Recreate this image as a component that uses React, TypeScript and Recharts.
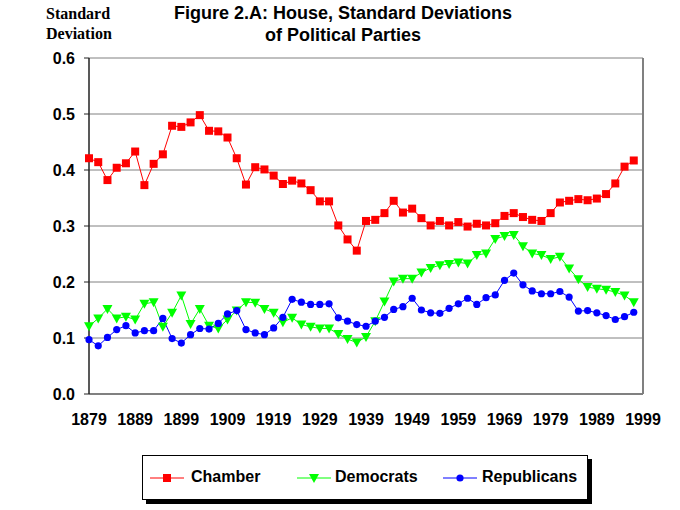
import React from 'react';
import { LineChart, Line, XAxis, YAxis, CartesianGrid, ReferenceLine, Legend } from 'recharts';

const years = [
  1879, 1881, 1883, 1885, 1887, 1889, 1891, 1893, 1895, 1897,
  1899, 1901, 1903, 1905, 1907, 1909, 1911, 1913, 1915, 1917,
  1919, 1921, 1923, 1925, 1927, 1929, 1931, 1933, 1935, 1937,
  1939, 1941, 1943, 1945, 1947, 1949, 1951, 1953, 1955, 1957,
  1959, 1961, 1963, 1965, 1967, 1969, 1971, 1973, 1975, 1977,
  1979, 1981, 1983, 1985, 1987, 1989, 1991, 1993, 1995, 1997,
];

const chamber = [
  0.421, 0.414, 0.382, 0.404, 0.412, 0.433, 0.373, 0.411, 0.428, 0.479,
  0.477, 0.485, 0.498, 0.470, 0.469, 0.458, 0.421, 0.374, 0.405, 0.401,
  0.390, 0.375, 0.381, 0.376, 0.364, 0.344, 0.344, 0.301, 0.276, 0.256,
  0.309, 0.311, 0.323, 0.345, 0.324, 0.331, 0.314, 0.301, 0.309, 0.301,
  0.307, 0.299, 0.304, 0.301, 0.305, 0.318, 0.323, 0.316, 0.311, 0.309,
  0.323, 0.342, 0.345, 0.348, 0.346, 0.349, 0.357, 0.376, 0.406, 0.417,
];

const democrats = [
  0.121, 0.135, 0.152, 0.135, 0.138, 0.133, 0.161, 0.164, 0.120, 0.145,
  0.176, 0.125, 0.152, 0.122, 0.117, 0.133, 0.149, 0.164, 0.163, 0.152,
  0.145, 0.128, 0.136, 0.124, 0.120, 0.117, 0.117, 0.107, 0.098, 0.092,
  0.102, 0.130, 0.165, 0.201, 0.206, 0.206, 0.217, 0.225, 0.230, 0.232,
  0.235, 0.233, 0.248, 0.251, 0.277, 0.282, 0.284, 0.264, 0.251, 0.248,
  0.241, 0.245, 0.224, 0.205, 0.191, 0.188, 0.186, 0.182, 0.176, 0.164,
];

const republicans = [
  0.097, 0.086, 0.101, 0.115, 0.122, 0.109, 0.113, 0.113, 0.135, 0.099,
  0.091, 0.106, 0.117, 0.116, 0.126, 0.143, 0.149, 0.115, 0.109, 0.106,
  0.118, 0.137, 0.169, 0.164, 0.160, 0.160, 0.161, 0.136, 0.130, 0.124,
  0.121, 0.130, 0.137, 0.151, 0.156, 0.171, 0.150, 0.145, 0.144, 0.153,
  0.161, 0.171, 0.160, 0.172, 0.177, 0.203, 0.216, 0.195, 0.184, 0.179,
  0.179, 0.183, 0.173, 0.148, 0.149, 0.145, 0.140, 0.133, 0.138, 0.146,
];

const xTicks = [1879, 1889, 1899, 1909, 1919, 1929, 1939, 1949, 1959, 1969, 1979, 1989, 1999];
const yTicks = [0, 0.1, 0.2, 0.3, 0.4, 0.5, 0.6];

const data = years.map((y, i) => ({
  year: y,
  chamber: chamber[i],
  democrats: democrats[i],
  republicans: republicans[i],
}));

const RED = '#FF0000';
const GREEN = '#00FF00';
const BLUE = '#0000FF';
const SANS = '"Liberation Sans", Arial, sans-serif';
const SERIF = '"Liberation Serif", "Times New Roman", serif';

const SquareDot = (props: any) => {
  const { cx, cy, index } = props;
  if (cx == null || cy == null) return <g key={`s${index}`} />;
  return <rect key={`s${index}`} x={cx - 4} y={cy - 4} width={8} height={8} fill={RED} />;
};

const TriDot = (props: any) => {
  const { cx, cy, index } = props;
  if (cx == null || cy == null) return <g key={`t${index}`} />;
  return (
    <polygon
      key={`t${index}`}
      points={`${cx - 5},${cy - 4} ${cx + 5},${cy - 4} ${cx},${cy + 5}`}
      fill={GREEN}
    />
  );
};

const CircDot = (props: any) => {
  const { cx, cy, index } = props;
  if (cx == null || cy == null) return <g key={`c${index}`} />;
  return <circle key={`c${index}`} cx={cx} cy={cy} r={3.6} fill={BLUE} />;
};

const legendItems = [
  { label: 'Chamber', color: RED, kind: 'square', lineX: 7, textX: 48 },
  { label: 'Democrats', color: GREEN, kind: 'tri', lineX: 154, textX: 192 },
  { label: 'Republicans', color: BLUE, kind: 'circle', lineX: 300, textX: 339 },
];

const LegendBox = () => (
  <div
    style={{
      position: 'relative',
      width: 444,
      height: 43,
      border: '1px solid #000',
      background: '#fff',
      boxShadow: '4px 4px 0 #000',
      fontFamily: SANS,
    }}
  >
    {legendItems.map((it) => (
      <React.Fragment key={it.label}>
        <svg
          width={34}
          height={12}
          style={{ position: 'absolute', left: it.lineX, top: 16 }}
        >
          <line x1={0} y1={6} x2={34} y2={6} stroke={it.color} strokeWidth={1} />
          {it.kind === 'square' && <rect x={13} y={2} width={8} height={8} fill={it.color} />}
          {it.kind === 'tri' && <polygon points="12,2 22,2 17,11" fill={it.color} />}
          {it.kind === 'circle' && <circle cx={17} cy={6} r={3.6} fill={it.color} />}
        </svg>
        <span
          style={{
            position: 'absolute',
            left: it.textX,
            top: 11,
            fontSize: 16,
            fontWeight: 'bold',
            lineHeight: '20px',
            color: '#000',
            whiteSpace: 'nowrap',
          }}
        >
          {it.label}
        </span>
      </React.Fragment>
    ))}
  </div>
);

export default function App() {
  return (
    <div style={{ position: 'absolute', left: 0, top: 0, width: 680, height: 510, background: '#fff' }}>
      <div
        style={{
          position: 'absolute',
          left: 46,
          top: 4,
          fontFamily: SERIF,
          fontWeight: 'bold',
          fontSize: 16,
          lineHeight: '20px',
          color: '#000',
        }}
      >
        Standard
        <br />
        Deviation
      </div>
      <div
        style={{
          position: 'absolute',
          left: 143,
          top: 2,
          width: 400,
          textAlign: 'center',
          fontFamily: SANS,
          fontWeight: 'bold',
          fontSize: 18,
          lineHeight: '22px',
          color: '#000',
        }}
      >
        Figure 2.A: House, Standard Deviations
        <br />
        of Political Parties
      </div>
      <LineChart
        width={680}
        height={510}
        data={data}
        margin={{ top: 58, right: 37, bottom: 86, left: 39 }}
      >
        <CartesianGrid vertical={false} stroke="#808080" strokeWidth={1} />
        <XAxis
          dataKey="year"
          type="number"
          domain={[1879, 1999]}
          ticks={xTicks}
          interval={0}
          height={30}
          tickLine={false}
          tickSize={0}
          tickMargin={20}
          axisLine={{ stroke: '#808080', strokeWidth: 2 }}
          tick={{ fill: '#000', fontSize: 16, fontWeight: 'bold', fontFamily: SANS }}
        />
        <YAxis
          type="number"
          domain={[0, 0.6]}
          ticks={yTicks}
          interval={0}
          width={50}
          tickSize={5}
          tickMargin={9}
          tickFormatter={(v: number) => v.toFixed(1)}
          axisLine={{ stroke: '#222', strokeWidth: 1.5 }}
          tickLine={{ stroke: '#222' }}
          tick={{ fill: '#000', fontSize: 16, fontWeight: 'bold', fontFamily: SANS }}
        />
        <ReferenceLine x={1999} stroke="#808080" strokeWidth={2} />
        <Line
          dataKey="chamber"
          name="Chamber"
          stroke={RED}
          strokeWidth={1}
          dot={SquareDot}
          activeDot={false}
          isAnimationActive={false}
        />
        <Line
          dataKey="democrats"
          name="Democrats"
          stroke={GREEN}
          strokeWidth={1}
          dot={TriDot}
          activeDot={false}
          isAnimationActive={false}
        />
        <Line
          dataKey="republicans"
          name="Republicans"
          stroke={BLUE}
          strokeWidth={1}
          dot={CircDot}
          activeDot={false}
          isAnimationActive={false}
        />
        <Legend
          layout="horizontal"
          verticalAlign="middle"
          align="center"
          content={() => <LegendBox />}
          wrapperStyle={{ left: 142, top: 455, width: 450, height: 50 }}
        />
      </LineChart>
    </div>
  );
}
